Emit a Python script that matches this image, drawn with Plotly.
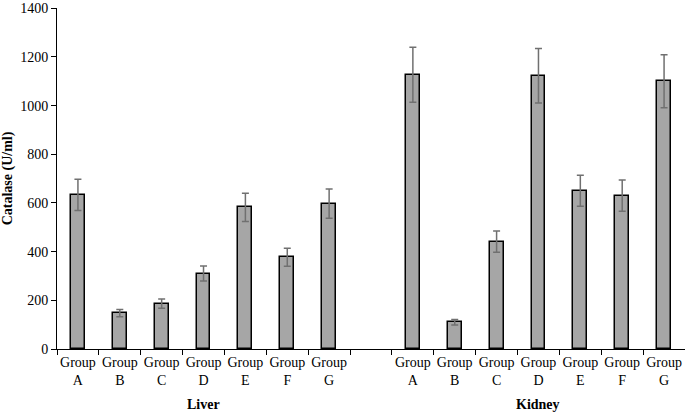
import plotly.graph_objects as go

# Catalase activity (U/ml), mean and error
groups = ["A", "B", "C", "D", "E", "F", "G"]
liver_mean = [633, 147, 186, 310, 582, 377, 597]
liver_err = [64, 15, 19, 31, 58, 37, 60]
kidney_mean = [1127, 110, 441, 1123, 650, 630, 1100]
kidney_err = [113, 11, 44, 112, 64, 64, 109]
y_ticks = [0, 200, 400, 600, 800, 1000, 1200, 1400]

font = "Liberation Serif, Times New Roman, serif"
n = len(groups)
liver_x = list(range(n))
kidney_x = [i + n + 1 for i in range(n)]
centers = liver_x + kidney_x
labels = [f"Group<br>{g}" for g in groups] * 2
boundaries = [i - 0.5 for i in range(2 * n + 2)]

fig = go.Figure()

for xs, ys, es in [(liver_x, liver_mean, liver_err), (kidney_x, kidney_mean, kidney_err)]:
    fig.add_trace(go.Bar(
        x=xs, y=ys, width=0.33,
        marker=dict(color="#a6a6a6", line=dict(color="#000000", width=1.5)),
        error_y=dict(type="data", array=es, visible=True,
                     color="#707070", thickness=1.5, width=3.5),
        showlegend=False, hoverinfo="y"
    ))

# invisible trace to carry the boundary tick axis
fig.add_trace(go.Scatter(x=[boundaries[0], boundaries[-1]], y=[0, 0], xaxis="x2",
                         mode="lines", line=dict(width=0), showlegend=False, hoverinfo="skip"))

xrange = [-0.5, 2 * n + 0.5]
fig.update_layout(
    width=685, height=415,
    margin=dict(l=57, r=0, t=8, b=66),
    plot_bgcolor="white", paper_bgcolor="white",
    font=dict(family=font, size=14, color="#000000"),
    bargap=0,
    xaxis=dict(
        range=xrange, tickmode="array", tickvals=centers, ticktext=labels,
        ticks="", showline=True, linecolor="#000000", linewidth=1,
        showgrid=False, zeroline=False, tickfont=dict(size=14),
    ),
    xaxis2=dict(
        range=xrange, overlaying="x", side="bottom",
        tickmode="array", tickvals=boundaries, showticklabels=False,
        ticks="outside", ticklen=5, tickcolor="#000000",
        showline=False, showgrid=False, zeroline=False,
    ),
    yaxis=dict(
        range=[0, 1401], tickmode="array", tickvals=y_ticks,
        ticks="outside", ticklen=5, tickcolor="#000000",
        showline=True, linecolor="#000000", linewidth=1,
        showgrid=False, zeroline=False, tickfont=dict(size=14),
        title=dict(text="<b>Catalase (U/ml)</b>", font=dict(size=14), standoff=8),
    ),
    annotations=[
        dict(x=(n - 1) / 2, y=-0.135, xref="x", yref="paper", text="<b>Liver</b>",
             showarrow=False, yanchor="top", font=dict(size=14)),
        dict(x=n + 1 + (n - 1) / 2, y=-0.135, xref="x", yref="paper", text="<b>Kidney</b>",
             showarrow=False, yanchor="top", font=dict(size=14)),
    ],
)

fig.write_html("out.html", config={"displayModeBar": False},
               post_script="document.body.style.margin='0';")
